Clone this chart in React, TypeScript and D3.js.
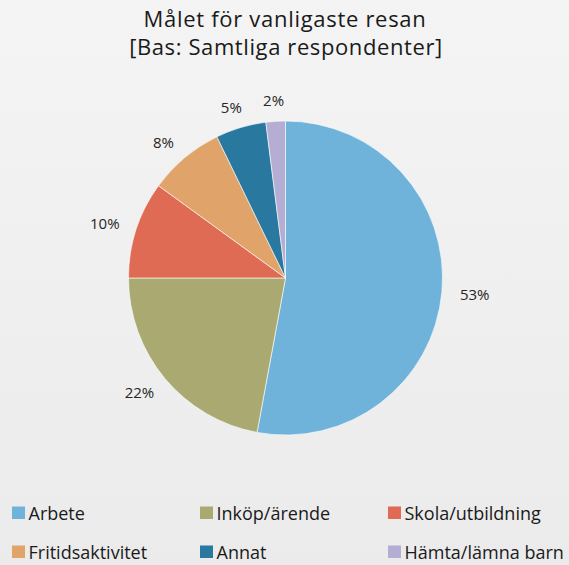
import * as d3 from "d3";

const categories = ["Arbete", "Inköp/ärende", "Skola/utbildning", "Fritidsaktivitet", "Annat", "Hämta/lämna barn"];
const values = [52.9, 22.1, 10.0, 7.8, 5.2, 2.0];
const labels = ["53%", "22%", "10%", "8%", "5%", "2%"];
const colors = ["#6fb3db", "#a9a971", "#e06b55", "#e0a46b", "#2878a0", "#b4aed4"];

const width = 569;
const height = 565;
const cx = 285.5;
const cy = 278;
const radius = 157;
const font = "'Open Sans', 'Noto Sans', sans-serif";

export default function App() {
  const pie = d3.pie<number>().sort(null).value((d) => d);
  const arcs = pie(values);
  const arc = d3.arc<d3.PieArcDatum<number>>().innerRadius(0).outerRadius(radius);

  const legendX = [12, 200, 388];
  const legendY = [513, 552];

  return (
    <svg
      width={width}
      height={height}
      style={{ position: "absolute", left: 0, top: 0 }}
      fontFamily={font}
    >
      <defs>
        <linearGradient id="bg" x1="0" y1="0" x2="0" y2="1">
          <stop offset="0" stopColor="#f4f4f4" />
          <stop offset="1" stopColor="#ebebeb" />
        </linearGradient>
      </defs>
      <rect width={width} height={height} fill="url(#bg)" />
      <text x={285} y={27} textAnchor="middle" fontSize={22} fill="#1a1a1a" letterSpacing={0.7}>
        Målet för vanligaste resan
      </text>
      <text x={286} y={55} textAnchor="middle" fontSize={22} fill="#1a1a1a" letterSpacing={0.6}>
        [Bas: Samtliga respondenter]
      </text>
      <g transform={`translate(${cx},${cy})`}>
        {arcs.map((a, i) => (
          <path key={i} d={arc(a) ?? ""} fill={colors[i]} stroke="#ffffff" strokeWidth={0.6} />
        ))}
        {arcs.map((a, i) => {
          const mid = (a.startAngle + a.endAngle) / 2;
          const s = Math.sin(mid);
          const c = Math.cos(mid);
          const R = 173;
          const x = R * s + 17 * s;
          const y = -R * c - 5 * c;
          return (
            <text
              key={i}
              x={x}
              y={y}
              textAnchor="middle"
              dominantBaseline="central"
              fontSize={15}
              fill="#262626"
            >
              {labels[i]}
            </text>
          );
        })}
      </g>
      {categories.map((name, i) => {
        const col = i % 3;
        const row = Math.floor(i / 3);
        const x = legendX[col];
        const y = legendY[row];
        return (
          <g key={name}>
            <rect x={x} y={y - 6.5} width={13} height={12.5} fill={colors[i]} />
            <text x={x + 16.5} y={y} dominantBaseline="central" fontSize={18} fill="#1a1a1a">
              {name}
            </text>
          </g>
        );
      })}
    </svg>
  );
}
